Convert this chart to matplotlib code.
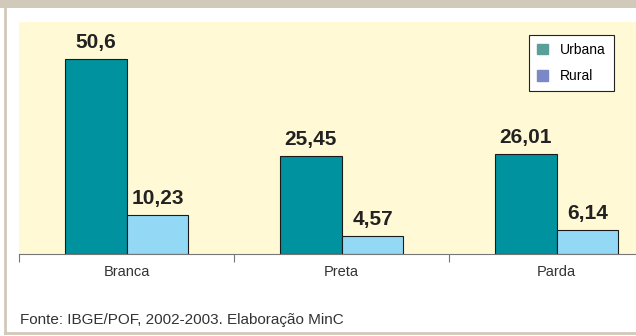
import matplotlib.pyplot as plt
import matplotlib.patches as mpatches
import numpy as np

categorias = ['Branca', 'Preta', 'Parda']
urbana = [50.6, 25.45, 26.01]
rural = [10.23, 4.57, 6.14]
rotulos_urbana = ['50,6', '25,45', '26,01']
rotulos_rural = ['10,23', '4,57', '6,14']
fonte = 'Fonte: IBGE/POF, 2002-2003. Elaboração MinC'

plt.rcParams['font.family'] = ['Liberation Sans', 'DejaVu Sans']

W, H = 636, 336
fig = plt.figure(figsize=(W / 100, H / 100), dpi=100)
fig.patch.set_facecolor('white')

# moldura: faixa bege no topo, linhas cinza à esquerda e embaixo
fig.add_artist(mpatches.Rectangle((0, 1 - 8 / H), 1, 8 / H, transform=fig.transFigure,
                                  facecolor='#d1c9b9', edgecolor='none'))
fig.add_artist(plt.Line2D([5 / W, 5 / W], [3 / H, 1 - 8 / H], transform=fig.transFigure,
                          color='#d1c9b9', lw=2))
fig.add_artist(plt.Line2D([5 / W, 1], [3 / H, 3 / H], transform=fig.transFigure,
                          color='#d1c9b9', lw=2))

ax = fig.add_axes([19 / W, 82 / H, 645 / W, 232 / H])
ax.set_facecolor('#fffad5')

x = np.arange(len(categorias))
w = 0.288
b1 = ax.bar(x - w / 2, urbana, w, color='#00929f', edgecolor='#1a1a1a', linewidth=0.8)
b2 = ax.bar(x + w / 2, rural, w, color='#93d9f6', edgecolor='#1a1a1a', linewidth=0.8)
ax.bar_label(b1, labels=rotulos_urbana, padding=5, fontsize=15, fontweight='bold', color='#222222')
ax.bar_label(b2, labels=rotulos_rural, padding=5, fontsize=15, fontweight='bold', color='#222222')

ax.set_xlim(-0.5, 2.5)
ax.set_ylim(0, 60.2)
ax.set_yticks([])
for s in ['top', 'right', 'left']:
    ax.spines[s].set_visible(False)
ax.spines['bottom'].set_color('#777777')
ax.set_xticks([-0.5, 0.5, 1.5, 2.5])
ax.set_xticklabels([])
ax.tick_params(axis='x', length=6, color='#777777')
ax.set_xticks(x, minor=True)
ax.set_xticklabels(categorias, minor=True, fontsize=10.5, color='#333333')
ax.tick_params(axis='x', which='minor', length=0, pad=8)

handles = [mpatches.Patch(color='#5a9f99', label='Urbana'),
           mpatches.Patch(color='#7b87c6', label='Rural')]
leg = fig.legend(handles=handles, loc='upper left', bbox_to_anchor=(529 / W, 1 - 35 / H),
                 borderaxespad=0, fancybox=False, edgecolor='#222222', framealpha=1,
                 fontsize=10, handlelength=0.8, handleheight=0.8, labelspacing=0.9,
                 handletextpad=0.9, borderpad=0.55)
leg.get_frame().set_linewidth(0.8)

fig.text(20 / W, 1 - 320 / H, fonte, fontsize=11, color='#333333', va='center')

fig.savefig('out.png', dpi=100)
